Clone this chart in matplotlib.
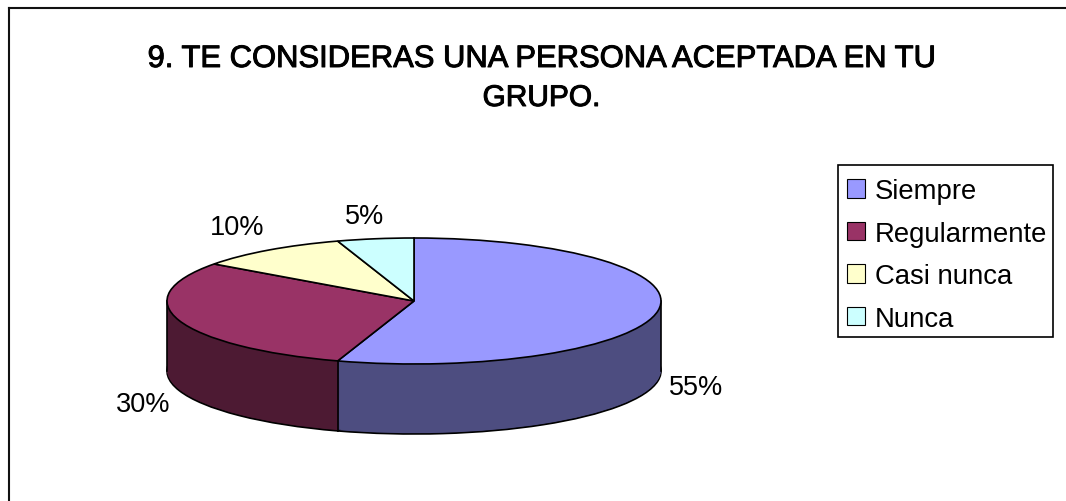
import numpy as np
import matplotlib.pyplot as plt
import matplotlib.patheffects as pe
from matplotlib.lines import Line2D
from matplotlib.patches import Patch, Rectangle

plt.rcParams['font.family'] = ['Liberation Sans', 'DejaVu Sans']

categories = ['Siempre', 'Regularmente', 'Casi nunca', 'Nunca']
values = [55, 30, 10, 5]
pct_labels = ['55%', '30%', '10%', '5%']
top_colors = ['#9999FF', '#993366', '#FFFFCC', '#CCFFFF']
side_colors = ['#4D4D80', '#4D1A33', '#808066', '#668080']

W, H = 1066, 502
cx, cy = 414, 302
rx, ry = 247, 63
depth = 70 / ry

fig = plt.figure(figsize=(W / 100, H / 100), dpi=100)
ax = fig.add_axes([0, 0, 1, 1])

# chart frame: only the top and left sides show in the picture
fig.add_artist(Line2D([8.5 / W, 1], [1 - 9 / H, 1 - 9 / H], color='#111111', lw=1.5))
fig.add_artist(Line2D([8.5 / W, 8.5 / W], [1 - 9 / H, 0], color='#111111', lw=1.5))

# side wall: stacked pies going down, then the top one over them
ax.pie(values, startangle=90, counterclock=False, center=(0, -depth), colors=side_colors,
       wedgeprops=dict(edgecolor='black', linewidth=1.2))
for off in np.linspace(depth - 0.02, 0.02, 70):
    ax.pie(values, startangle=90, counterclock=False, center=(0, -off), colors=side_colors,
           wedgeprops=dict(edgecolor='none', linewidth=0))

# vertical edges on the visible side
ax.plot([-1, -1], [0, -depth], color='black', lw=1.2, zorder=3)
ax.plot([1, 1], [0, -depth], color='black', lw=1.2, zorder=3)
ang = np.deg2rad(90 - values[0] / sum(values) * 360)
ax.plot([np.cos(ang)] * 2, [np.sin(ang), np.sin(ang) - depth], color='black', lw=1.2, zorder=3)

wedges, _ = ax.pie(values, startangle=90, counterclock=False, colors=top_colors,
                   wedgeprops=dict(edgecolor='black', linewidth=1.2))
for w in wedges:
    w.set_zorder(4)

ax.set_aspect('auto')
ax.set_xlim(-cx / rx, (W - cx) / rx)
ax.set_ylim(-(H - cy) / ry, cy / ry)
ax.axis('off')

# percent labels
label_pos = [(696, 388), (143, 405), (237, 228), (365, 217)]
for s, (x, y) in zip(pct_labels, label_pos):
    ax.text((x - cx) / rx, (cy - y) / ry, s, fontsize=19.5, ha='center', va='center', zorder=5)

# the title looks slightly emboldened in the original
bold = [pe.withStroke(linewidth=0.7, foreground='black')]
fig.text(541.5 / W, 1 - 60 / H, '9. TE CONSIDERAS UNA PERSONA ACEPTADA EN TU', fontsize=22.3,
         ha='center', va='center', path_effects=bold)
fig.text(541.5 / W, 1 - 99 / H, 'GRUPO.', fontsize=21.5, ha='center', va='center', path_effects=bold)

# legend box drawn apart so the rows can sit lower inside it
fig.add_artist(Rectangle((838 / W, 1 - 338 / H), 214.5 / W, 172 / H, facecolor='white',
                         edgecolor='black', linewidth=1.2, transform=fig.transFigure))
handles = [Patch(facecolor=c, edgecolor='black', linewidth=0.8) for c in top_colors]
leg = fig.legend(handles, categories, loc='upper left', bbox_to_anchor=(838.5 / W, 1 - 170.5 / H),
                 bbox_transform=fig.transFigure, fontsize=19.8, frameon=False,
                 borderaxespad=0, borderpad=0.32,
                 handlelength=0.66, handleheight=0.66, handletextpad=0.33, labelspacing=0.6)
leg.set_zorder(5)

plt.savefig('out.png', dpi=100)
